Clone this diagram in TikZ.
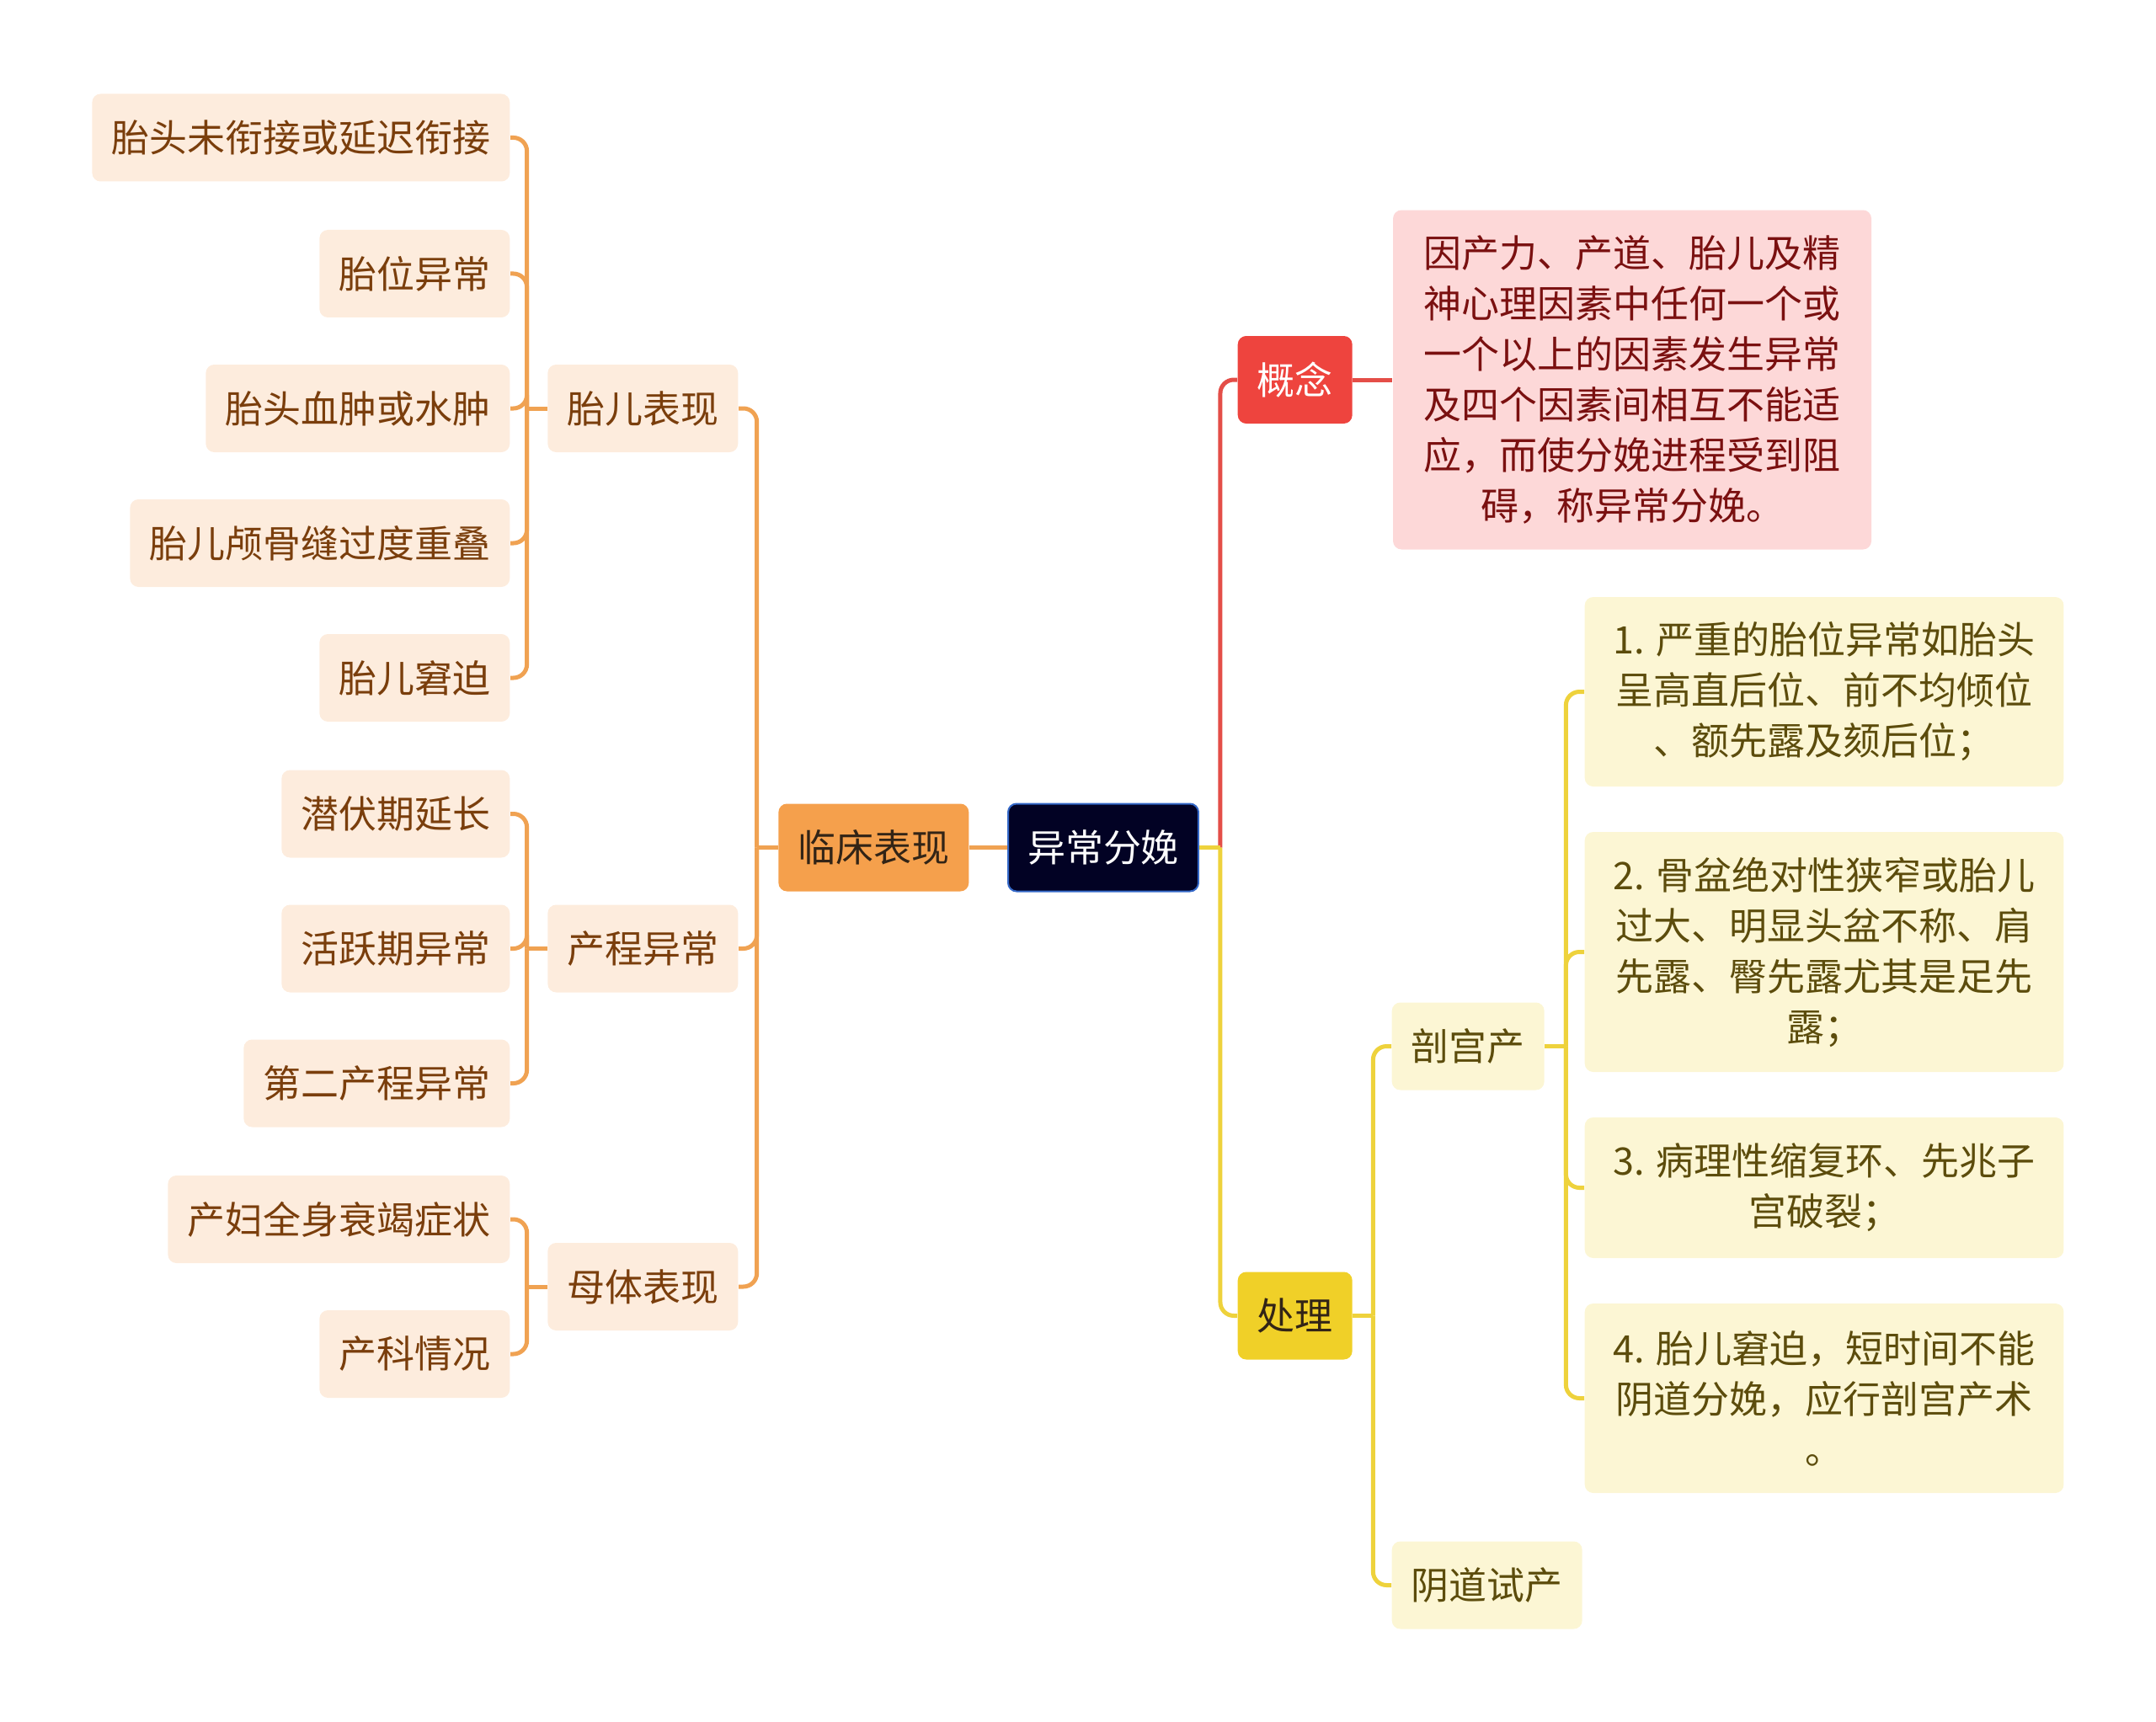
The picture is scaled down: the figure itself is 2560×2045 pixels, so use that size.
\documentclass[tikz,border=0pt]{standalone}
\usepackage{fontspec}
\setmainfont{Noto Sans CJK SC}
\usetikzlibrary{positioning}

\definecolor{peach}{RGB}{253,236,221}
\definecolor{brownink}{RGB}{122,62,12}
\definecolor{orangeline}{RGB}{240,162,82}
\definecolor{orangefill}{RGB}{245,160,76}
\definecolor{darkink}{RGB}{50,36,22}
\definecolor{navy}{RGB}{2,2,36}
\definecolor{navyedge}{RGB}{52,104,200}
\definecolor{redfill}{RGB}{238,68,62}
\definecolor{redline}{RGB}{228,78,72}
\definecolor{pinkfill}{RGB}{253,216,216}
\definecolor{redink}{RGB}{122,16,16}
\definecolor{yellowfill}{RGB}{240,208,40}
\definecolor{yellowline}{RGB}{238,210,60}
\definecolor{creamfill}{RGB}{252,246,212}
\definecolor{oliveink}{RGB}{92,76,12}

\begin{document}
\begin{tikzpicture}[x=0.1mm,y=-0.1mm,
  font=\fontsize{12.8pt}{17.07pt}\selectfont,
  box/.style={rounded corners=1mm,inner xsep=2.3mm,inner ysep=0pt,minimum height=10.4mm,align=center},
  cause/.style={box,fill=peach,text=brownink},
  clinicbox/.style={box,fill=orangefill,text=darkink},
  rootbox/.style={box,fill=navy,draw=navyedge,line width=0.2mm,text=white},
  conceptbox/.style={box,fill=redfill,text=white},
  definition/.style={box,fill=pinkfill,text=redink,minimum width=56.8mm,inner xsep=3.4mm},
  treatbox/.style={box,fill=yellowfill,text=darkink},
  option/.style={box,fill=creamfill,text=oliveink},
  indication/.style={option,minimum width=56.8mm,inner xsep=3.4mm},
  orangelink/.style={draw=orangeline,line width=0.5mm,rounded corners=1.6mm},
  redlink/.style={draw=redline,line width=0.5mm,rounded corners=1.6mm},
  yellowlink/.style={draw=yellowline,line width=0.5mm,rounded corners=1.6mm}]
\useasboundingbox (0,0) rectangle (2560,2045);

% centre
\node[rootbox] (root) at (1310,1006.5) {异常分娩};
\node[clinicbox, left=4.5mm of root] (clinic) {临床表现};

% left side
\node[cause, anchor=east] (fetal) at (877,485) {胎儿表现};
\node[cause, anchor=east] (labour) at (877,1126.5) {产程异常};
\node[cause, anchor=east] (mother) at (877,1528) {母体表现};
\node[cause, anchor=east] (f1) at (606,163.5) {胎头未衔接或延迟衔接};
\node[cause, anchor=east] (f2) at (606,325) {胎位异常};
\node[cause, anchor=east] (f3) at (606,485) {胎头血肿或水肿};
\node[cause, anchor=east] (f4) at (606,645) {胎儿颅骨缝过度重叠};
\node[cause, anchor=east] (f5) at (606,805) {胎儿窘迫};
\node[cause, anchor=east] (p1) at (606,966.5) {潜伏期延长};
\node[cause, anchor=east] (p2) at (606,1126.5) {活跃期异常};
\node[cause, anchor=east] (p3) at (606,1286.5) {第二产程异常};
\node[cause, anchor=east] (m1) at (606,1448) {产妇全身衰竭症状};
\node[cause, anchor=east] (m2) at (606,1608) {产科情况};

% right side
\node[conceptbox, anchor=west] (gainian) at (1469,451) {概念};
\node[definition, right=4.7mm of gainian, minimum height=40.3mm] (defn) {因产力、产道、胎儿及精\\神心理因素中任何一个或\\一个以上的因素发生异常\\及四个因素间相互不能适\\应，而使分娩进程受到阻\\碍，称异常分娩。};
\node[treatbox, anchor=west] (chuli) at (1469,1562.5) {处理};
\node[option, anchor=west] (pougong) at (1652,1242.5) {剖宫产};
\node[option, anchor=west] (yindao) at (1652,1882.5) {阴道试产};
\node[indication, anchor=west, minimum height=22.5mm] (s1) at (1881,821.5) {1. 严重的胎位异常如胎头\\呈高直后位、前不均倾位\\、额先露及颏后位；};
\node[indication, anchor=west, minimum height=28.5mm] (s2) at (1881,1130.5) {2. 骨盆绝对性狭窄或胎儿\\过大、明显头盆不称、肩\\先露、臀先露尤其是足先\\露；};
\node[indication, anchor=west, minimum height=16.7mm] (s3) at (1881,1410.5) {3. 病理性缩复环、先兆子\\宫破裂；};
\node[indication, anchor=west, minimum height=22.5mm] (s4) at (1881,1660.5) {4. 胎儿窘迫，短时间不能\\阴道分娩，应行剖宫产术\\。};

% connectors
\draw[orangelink] (root.west) -- (clinic.east);
\draw[orangelink] (clinic.west) -- ++(-25,0) coordinate (clinicfork);
\foreach \k in {fetal,labour,mother}
  \draw[orangelink] (clinicfork) |- (\k.east);
\draw[orangelink] (fetal.west) -- ++(-24,0) coordinate (fetalfork);
\foreach \k in {f1,f2,f3,f4,f5}
  \draw[orangelink] (fetalfork) |- (\k.east);
\draw[orangelink] (labour.west) -- ++(-24,0) coordinate (labourfork);
\foreach \k in {p1,p2,p3}
  \draw[orangelink] (labourfork) |- (\k.east);
\draw[orangelink] (mother.west) -- ++(-24,0) coordinate (motherfork);
\foreach \k in {m1,m2}
  \draw[orangelink] (motherfork) |- (\k.east);
\coordinate (rootfork) at ([xshift=2.5mm]root.east);
\draw[redlink] (rootfork) |- (gainian.west);
\draw[redlink] (gainian.east) -- (defn.west);
\draw[yellowlink] (rootfork) |- (chuli.west);
\draw[yellowlink] (root.east) -- (rootfork);
\draw[yellowlink] (chuli.east) -- ++(24,0) coordinate (chulifork);
\foreach \k in {pougong,yindao}
  \draw[yellowlink] (chulifork) |- (\k.west);
\draw[yellowlink] (pougong.east) -- ++(25,0) coordinate (pougongfork);
\foreach \k in {s1,s2,s3,s4}
  \draw[yellowlink] (pougongfork) |- (\k.west);
\end{tikzpicture}
\end{document}
